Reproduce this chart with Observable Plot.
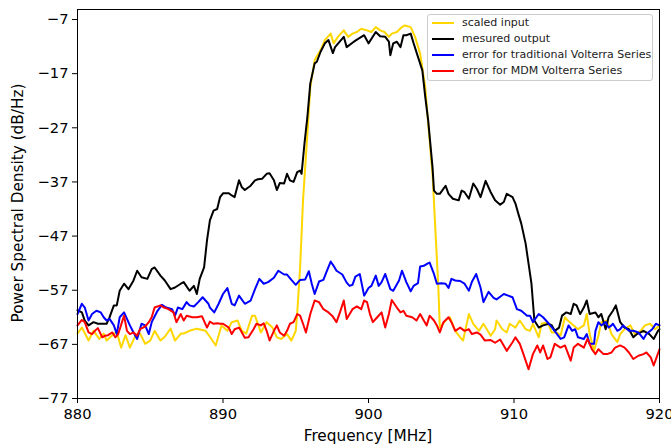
<!DOCTYPE html>
<html>
<head>
<meta charset="utf-8">
<script src="https://cdn.jsdelivr.net/npm/d3@7"></script>
<script src="https://cdn.jsdelivr.net/npm/@observablehq/plot@0.6"></script>
<style>
  body { margin: 0; background: white; }
  #wrap { position: relative; width: 671px; height: 447px; font-family: "DejaVu Sans", sans-serif; overflow: hidden; }
  .lbl { position: absolute; font-size: 15.3px; color: black; white-space: nowrap; }
  #legend { position: absolute; left: 427px; top: 14px; width: 226px; height: 67px; box-sizing: border-box;
            border: 1px solid #cccccc; border-radius: 3px; background: rgba(255,255,255,0.8); font-size: 11px; }
  .row { position: absolute; left: 0; height: 16px; line-height: 16px; width: 100%; }
  .sw { position: absolute; left: 4px; top: 7px; width: 22px; height: 2px; }
  .tx { position: absolute; left: 34px; top: 0; color: #222; }
</style>
</head>
<body>
<div id="wrap"></div>
<script>
// ---- data (frequency MHz, PSD dB/Hz) ----
const xTicks = [880, 890, 900, 910, 920];
const yTicks = [-77, -67, -57, -47, -37, -27, -17, -7];
const seriesNames = ["scaled input", "mesured output", "error for traditional Volterra Series", "error for MDM Volterra Series"];
const seriesColors = ["#FFD700", "#000000", "#0000FF", "#FF0000"];

const scaledInput = [[880.0,-65.0],[880.3,-63.9],[880.76,-66.3],[881.1,-64.5],[881.5,-66.0],[881.8,-65.0],[882.0,-66.3],[882.4,-65.3],[882.7,-64.7],[883.0,-67.6],[883.3,-65.3],[883.6,-67.6],[884.0,-65.3],[884.3,-65.0],[884.65,-66.9],[885.0,-66.3],[885.3,-64.5],[885.7,-66.3],[886.0,-65.6],[886.4,-64.1],[886.7,-66.3],[887.1,-65.0],[887.3,-65.0],[887.7,-64.5],[888.2,-64.1],[888.5,-64.3],[888.8,-64.5],[889.1,-65.6],[889.5,-67.2],[889.9,-63.5],[890.3,-64.5],[890.6,-62.9],[891.0,-62.6],[891.3,-64.5],[891.6,-65.0],[892.0,-61.7],[892.2,-61.7],[892.6,-64.8],[893.0,-62.9],[893.4,-63.9],[893.7,-65.7],[894.0,-66.0],[894.4,-65.1],[894.7,-66.3],[895.0,-64.5],[895.1,-61.3],[895.3,-52.8],[895.5,-40.4],[895.8,-28.1],[896.0,-19.5],[896.3,-14.5],[896.7,-12.7],[897.0,-10.8],[897.4,-9.6],[897.6,-11.4],[897.9,-10.2],[898.3,-9.0],[898.6,-10.2],[898.9,-9.6],[899.2,-9.3],[899.5,-8.7],[899.9,-9.0],[900.2,-9.3],[900.5,-8.4],[900.8,-9.0],[901.1,-9.3],[901.4,-10.2],[901.6,-9.6],[901.95,-9.3],[902.3,-8.4],[902.5,-8.1],[902.9,-8.4],[903.2,-10.2],[903.55,-13.3],[903.9,-19.5],[904.1,-26.2],[904.4,-35.5],[904.6,-46.0],[904.8,-56.5],[904.9,-63.9],[905.3,-62.6],[905.6,-62.0],[905.96,-64.5],[906.3,-65.7],[906.5,-66.3],[906.9,-61.4],[907.2,-63.2],[907.6,-64.5],[907.9,-63.2],[908.4,-65.4],[908.7,-64.2],[908.8,-62.6],[909.2,-64.2],[909.5,-64.8],[909.7,-63.2],[910.1,-63.9],[910.4,-62.6],[910.8,-64.2],[911.1,-64.5],[911.3,-63.2],[911.7,-65.7],[911.9,-63.2],[912.3,-62.9],[912.6,-64.8],[912.95,-64.8],[913.2,-65.4],[913.5,-62.0],[913.7,-62.6],[914.1,-63.5],[914.4,-64.2],[914.8,-63.5],[915.0,-61.4],[915.2,-65.1],[915.5,-68.2],[915.8,-65.4],[916.0,-62.9],[916.4,-62.6],[916.7,-65.1],[917.1,-66.6],[917.3,-65.1],[917.6,-64.2],[918.0,-63.5],[918.3,-65.1],[918.7,-64.5],[919.0,-63.5],[919.35,-63.2],[919.7,-64.2],[920.0,-63.5]];

const measuredOutput = [[880.0,-60.7],[880.3,-61.1],[880.5,-62.6],[880.76,-63.5],[881.1,-62.9],[881.4,-63.2],[881.8,-63.2],[882.0,-63.2],[882.2,-62.0],[882.5,-59.8],[882.7,-59.8],[882.9,-57.1],[883.2,-55.8],[883.5,-56.8],[883.85,-55.2],[884.1,-53.4],[884.4,-54.6],[884.8,-54.9],[885.1,-53.1],[885.3,-52.8],[885.7,-54.3],[886.0,-55.2],[886.4,-56.8],[886.7,-56.5],[887.1,-55.8],[887.3,-55.5],[887.7,-57.1],[888.0,-56.2],[888.2,-57.7],[888.4,-54.9],[888.7,-52.8],[888.9,-47.8],[889.1,-44.1],[889.35,-42.3],[889.6,-42.0],[889.8,-39.8],[890.0,-39.1],[890.4,-39.1],[890.6,-39.5],[890.8,-39.8],[891.1,-36.7],[891.3,-38.0],[891.5,-38.5],[891.9,-37.7],[892.2,-36.7],[892.4,-36.5],[892.7,-36.4],[893.0,-35.5],[893.2,-35.4],[893.5,-36.7],[893.7,-38.5],[893.9,-37.2],[894.2,-37.3],[894.4,-35.5],[894.6,-36.7],[894.85,-37.0],[895.1,-35.2],[895.3,-34.9],[895.4,-35.5],[895.6,-29.9],[895.8,-25.0],[896.0,-18.8],[896.3,-15.1],[896.45,-14.8],[896.7,-13.0],[897.0,-11.4],[897.25,-10.8],[897.55,-13.2],[897.7,-12.1],[898.05,-11.0],[898.3,-10.2],[898.5,-12.1],[898.9,-11.3],[899.1,-10.9],[899.4,-10.4],[899.7,-9.9],[900.0,-11.4],[900.5,-9.3],[900.8,-10.1],[901.15,-10.2],[901.4,-11.1],[901.5,-13.6],[901.7,-11.4],[901.95,-11.1],[902.2,-12.1],[902.4,-9.9],[902.6,-9.9],[902.9,-9.6],[903.1,-11.4],[903.4,-13.9],[903.7,-16.4],[903.9,-21.3],[904.1,-25.6],[904.4,-34.3],[904.5,-38.6],[904.7,-39.2],[904.9,-39.2],[905.3,-37.7],[905.5,-39.2],[905.8,-40.1],[906.2,-40.4],[906.4,-38.6],[906.6,-38.9],[906.9,-40.1],[907.2,-37.3],[907.45,-38.3],[907.7,-39.8],[908.05,-36.8],[908.4,-38.9],[908.7,-40.4],[909.05,-41.2],[909.3,-40.7],[909.5,-39.2],[909.9,-39.8],[910.1,-41.0],[910.3,-42.9],[910.5,-44.7],[910.8,-48.4],[911.0,-52.1],[911.2,-55.8],[911.4,-62.6],[911.7,-63.9],[912.0,-63.5],[912.4,-63.2],[912.6,-63.5],[912.8,-64.5],[913.1,-63.9],[913.3,-61.7],[913.6,-61.1],[913.9,-61.4],[914.1,-59.5],[914.3,-59.8],[914.55,-61.4],[914.8,-60.2],[915.0,-58.9],[915.2,-61.4],[915.6,-61.1],[915.8,-62.0],[916.0,-61.4],[916.3,-64.2],[916.5,-62.0],[916.8,-60.8],[917.0,-59.8],[917.3,-62.9],[917.6,-63.9],[917.9,-64.2],[918.2,-65.7],[918.45,-65.1],[918.7,-64.8],[918.9,-64.5],[919.3,-65.1],[919.6,-66.0],[919.9,-64.5],[920.0,-64.2]];

const errorTraditional = [[880.0,-61.4],[880.3,-59.5],[880.5,-60.2],[880.76,-62.6],[881.0,-61.4],[881.3,-60.8],[881.6,-61.1],[881.8,-62.0],[882.0,-62.6],[882.2,-62.3],[882.5,-63.5],[882.7,-65.1],[882.9,-62.0],[883.2,-61.1],[883.4,-62.3],[883.6,-63.5],[883.85,-64.8],[884.1,-66.0],[884.4,-63.2],[884.65,-63.5],[884.9,-65.1],[885.1,-62.9],[885.5,-60.8],[885.8,-59.7],[886.1,-60.2],[886.5,-60.5],[886.7,-61.7],[886.9,-60.2],[887.2,-60.5],[887.5,-59.2],[887.7,-59.8],[888.0,-60.0],[888.3,-59.2],[888.6,-58.3],[889.0,-59.5],[889.1,-60.2],[889.4,-61.1],[889.7,-59.5],[890.0,-57.7],[890.3,-56.6],[890.6,-59.5],[890.8,-59.8],[891.1,-58.0],[891.5,-59.5],[891.9,-58.9],[892.2,-56.8],[892.5,-54.9],[892.8,-55.8],[893.1,-55.5],[893.5,-54.7],[893.8,-53.4],[894.2,-54.1],[894.4,-54.1],[894.7,-55.1],[895.0,-56.0],[895.3,-55.1],[895.65,-55.0],[895.9,-53.5],[896.1,-55.8],[896.3,-57.7],[896.6,-55.4],[896.9,-55.1],[897.1,-53.7],[897.4,-51.7],[897.6,-52.5],[897.8,-53.4],[898.2,-54.1],[898.5,-55.6],[898.7,-56.2],[898.9,-56.0],[899.1,-54.5],[899.4,-54.0],[899.7,-58.0],[900.0,-56.6],[900.2,-56.2],[900.5,-54.3],[900.7,-56.2],[900.9,-55.5],[901.15,-54.0],[901.5,-56.8],[901.7,-57.1],[902.1,-55.2],[902.3,-53.4],[902.6,-55.5],[902.9,-57.2],[903.1,-56.2],[903.4,-55.7],[903.55,-52.6],[903.8,-52.5],[904.05,-52.1],[904.2,-51.9],[904.5,-54.0],[904.7,-55.8],[905.0,-55.7],[905.3,-55.8],[905.5,-56.6],[905.7,-54.9],[905.96,-55.2],[906.3,-55.3],[906.6,-55.8],[906.9,-57.1],[907.1,-55.5],[907.4,-54.0],[907.7,-56.5],[907.9,-59.2],[908.25,-57.3],[908.6,-58.4],[908.8,-58.7],[909.05,-58.2],[909.3,-57.7],[909.6,-58.0],[909.9,-58.3],[910.2,-60.5],[910.5,-60.8],[910.9,-61.7],[911.1,-61.7],[911.3,-62.9],[911.7,-61.4],[912.0,-62.0],[912.4,-63.2],[912.7,-64.2],[913.2,-66.0],[913.45,-65.7],[913.75,-63.5],[914.0,-64.5],[914.2,-64.2],[914.4,-65.7],[914.8,-66.0],[915.0,-65.1],[915.2,-66.9],[915.5,-66.9],[915.6,-64.5],[915.8,-62.9],[916.0,-63.5],[916.3,-62.9],[916.5,-63.9],[916.7,-63.5],[916.8,-63.2],[917.1,-64.5],[917.3,-64.2],[917.5,-63.5],[917.9,-64.5],[918.2,-64.5],[918.55,-64.8],[918.9,-66.0],[919.1,-65.1],[919.5,-64.2],[919.75,-63.2],[920.0,-63.5]];

const errorMDM = [[880.0,-63.5],[880.3,-62.5],[880.5,-62.9],[880.76,-64.8],[881.0,-65.1],[881.2,-64.5],[881.4,-64.0],[881.7,-65.7],[881.9,-65.4],[882.1,-65.3],[882.4,-64.8],[882.6,-65.7],[882.8,-65.1],[883.2,-61.7],[883.4,-64.5],[883.6,-65.1],[883.85,-64.8],[884.1,-65.4],[884.3,-64.2],[884.65,-63.7],[884.9,-62.9],[885.1,-62.0],[885.3,-60.2],[885.7,-59.8],[885.95,-60.2],[886.25,-60.5],[886.6,-61.1],[886.8,-62.9],[887.1,-61.4],[887.3,-62.6],[887.5,-61.7],[887.9,-62.0],[888.2,-62.0],[888.55,-61.8],[888.9,-63.9],[889.1,-62.8],[889.35,-63.2],[889.6,-63.1],[889.8,-63.2],[890.0,-63.2],[890.4,-63.9],[890.6,-65.1],[890.8,-64.2],[891.1,-63.9],[891.3,-64.8],[891.5,-65.8],[891.75,-65.7],[892.1,-64.2],[892.3,-63.2],[892.6,-63.5],[892.8,-63.1],[893.0,-64.5],[893.2,-66.3],[893.5,-64.5],[893.7,-63.5],[893.9,-64.8],[894.2,-65.4],[894.4,-64.5],[894.6,-63.2],[894.85,-62.9],[895.1,-61.4],[895.3,-61.7],[895.5,-63.2],[895.7,-64.8],[896.0,-61.4],[896.3,-58.9],[896.6,-59.2],[896.9,-60.5],[897.25,-61.1],[897.5,-61.7],[897.8,-62.9],[898.05,-61.0],[898.3,-58.9],[898.5,-62.3],[898.9,-60.5],[899.2,-60.0],[899.5,-60.5],[899.7,-58.9],[899.9,-59.2],[900.1,-61.4],[900.3,-62.9],[900.6,-62.0],[900.9,-61.1],[901.15,-63.9],[901.4,-61.4],[901.6,-58.8],[901.95,-60.2],[902.2,-61.1],[902.4,-60.8],[902.6,-61.7],[903.0,-62.0],[903.3,-62.6],[903.55,-61.4],[903.8,-62.6],[904.0,-63.5],[904.2,-61.7],[904.5,-62.6],[904.7,-63.5],[904.9,-64.8],[905.15,-62.9],[905.5,-62.0],[905.7,-62.9],[905.96,-64.5],[906.3,-63.9],[906.6,-64.5],[906.9,-64.2],[907.1,-65.1],[907.45,-64.8],[907.7,-65.2],[908.0,-66.3],[908.4,-66.2],[908.7,-66.7],[909.05,-66.1],[909.5,-68.2],[909.9,-66.6],[910.1,-65.7],[910.4,-66.9],[910.65,-68.8],[911.0,-71.6],[911.3,-68.8],[911.6,-67.2],[911.8,-68.5],[912.0,-67.2],[912.3,-69.7],[912.5,-69.4],[912.8,-66.9],[913.2,-67.6],[913.5,-67.2],[913.9,-70.0],[914.1,-67.6],[914.4,-66.9],[914.8,-67.6],[915.05,-66.0],[915.35,-67.9],[915.6,-68.8],[915.8,-67.9],[916.15,-68.8],[916.4,-68.8],[916.7,-68.5],[916.95,-67.6],[917.3,-67.2],[917.6,-67.6],[917.9,-68.5],[918.2,-69.7],[918.55,-69.1],[918.9,-68.8],[919.1,-68.5],[919.4,-69.4],[919.6,-70.9],[919.8,-69.4],[920.0,-67.9]];

const allSeries = [scaledInput, measuredOutput, errorTraditional, errorMDM];

// ---- chart ----
const fmt = d => (d < 0 ? "\u2212" + Math.abs(d) : String(d));
const lineOpts = (i) => ({x: d => d[0], y: d => d[1], stroke: seriesColors[i], strokeWidth: 2, curve: "linear"});

const chart = Plot.plot({
  width: 671,
  height: 447,
  marginLeft: 77,
  marginRight: 12,
  marginTop: 9,
  marginBottom: 49,
  style: {fontFamily: "DejaVu Sans, sans-serif", fontSize: "14.7px", background: "white", color: "black", overflow: "visible"},
  x: {domain: [880, 920]},
  y: {domain: [-77, -5.15]},
  marks: [
    Plot.axisX({ticks: xTicks, tickSize: 5, tickPadding: 5, label: null, tickFormat: fmt}),
    Plot.axisY({ticks: yTicks, tickSize: 5, tickPadding: 4, label: null, tickFormat: fmt}),
    ...allSeries.map((s, i) => Plot.line(s, lineOpts(i))),
    Plot.frame({stroke: "black", strokeWidth: 1})
  ]
});

const wrap = document.getElementById("wrap");
wrap.appendChild(chart);

// axis titles
const xl = document.createElement("div");
xl.className = "lbl";
xl.textContent = "Frequency [MHz]";
xl.style.left = "368px"; xl.style.top = "427px"; xl.style.transform = "translateX(-50%)";
wrap.appendChild(xl);

const yl = document.createElement("div");
yl.className = "lbl";
yl.textContent = "Power Spectral Density (dB/Hz)";
yl.style.left = "18px"; yl.style.top = "203px";
yl.style.transform = "translate(-50%,-50%) rotate(-90deg)";
wrap.appendChild(yl);

// legend
const lg = document.createElement("div");
lg.id = "legend";
seriesNames.forEach((name, i) => {
  const row = document.createElement("div");
  row.className = "row";
  row.style.top = (i * 16) + "px";
  const sw = document.createElement("span");
  sw.className = "sw";
  sw.style.background = seriesColors[i];
  const tx = document.createElement("span");
  tx.className = "tx";
  tx.textContent = name;
  row.appendChild(sw); row.appendChild(tx);
  lg.appendChild(row);
});
wrap.appendChild(lg);
</script>
</body>
</html>
